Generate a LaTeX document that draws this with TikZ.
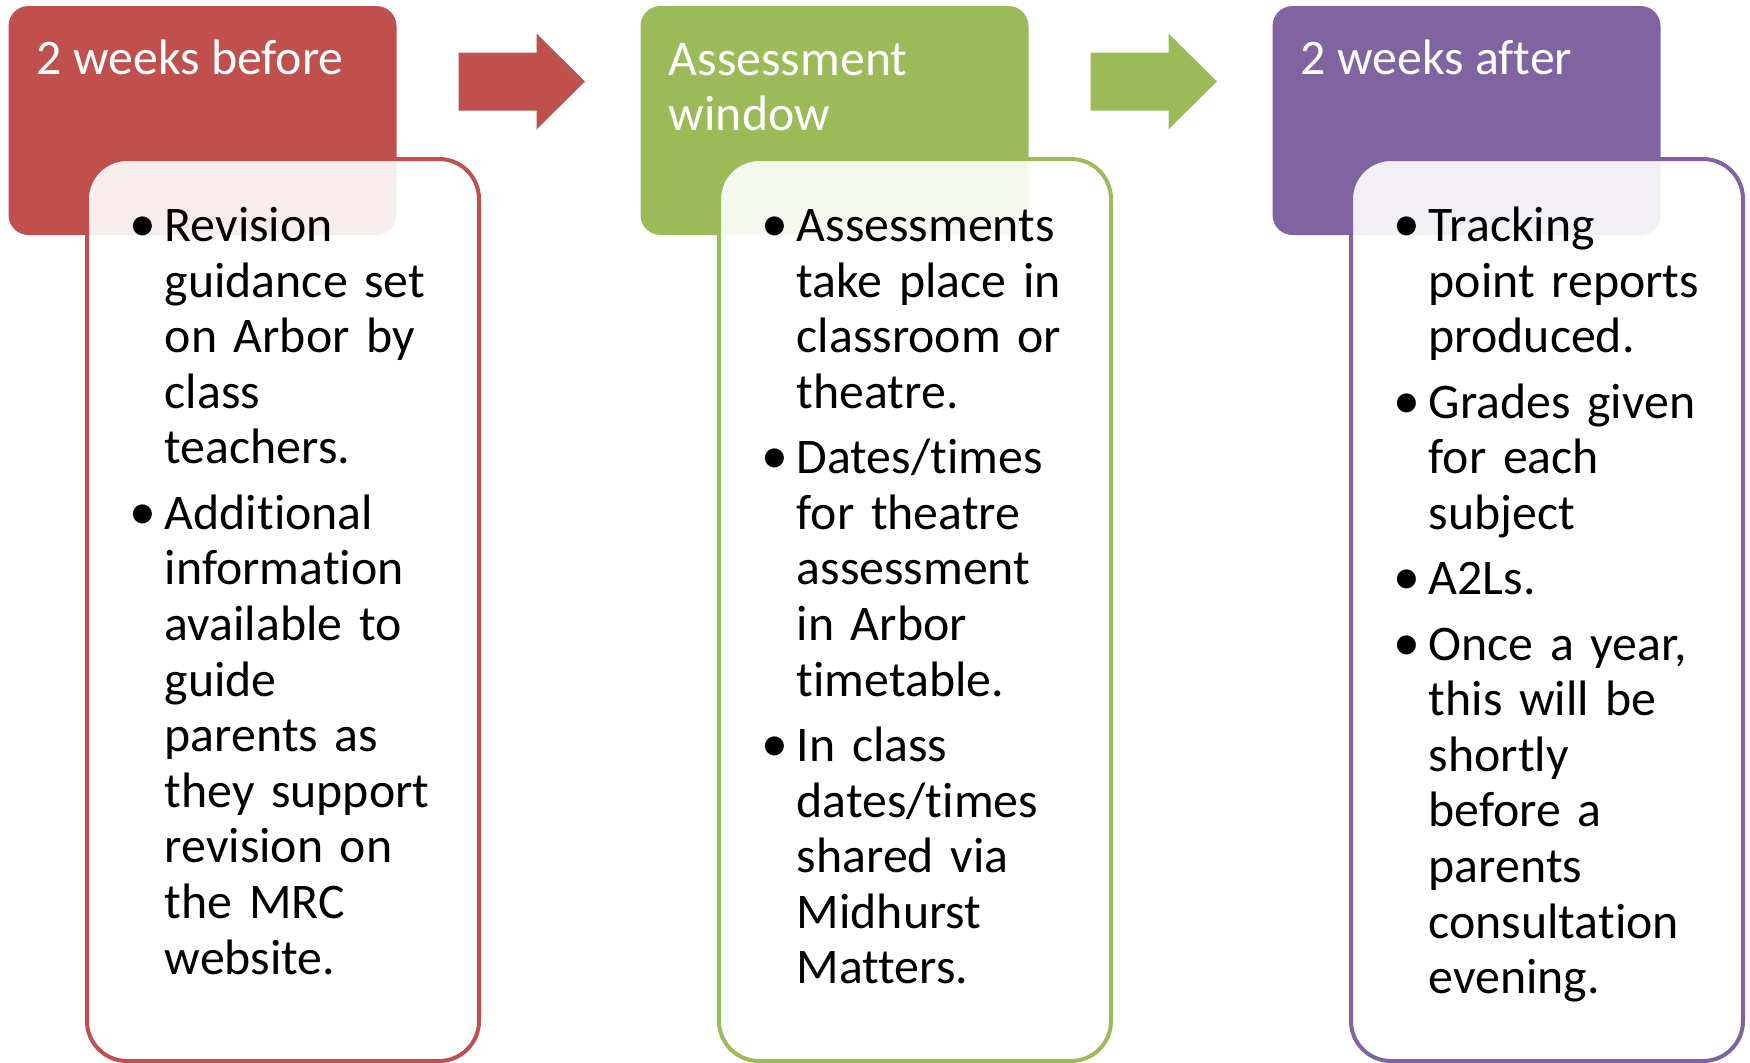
\documentclass[tikz,border=0pt]{standalone}
\usepackage{fontspec}
\setmainfont{Carlito}[Ligatures=NoCommon]
\usetikzlibrary{positioning}
\definecolor{accred}{HTML}{C0504D}
\definecolor{accgreen}{HTML}{9BBB59}
\definecolor{accpurple}{HTML}{8064A2}
\newlength{\bulletw}
\setlength{\bulletw}{17.2pt}
\newcommand{\bitem}[1]{\par\hangindent=\bulletw\hangafter=1\noindent\makebox[\bulletw][l]{\hspace{-0.5pt}\scalebox{1.08}{\textbullet}}#1\par}

\begin{document}
\begin{tikzpicture}[x=0.5pt, y=-0.5pt,
  header/.style={rounded corners=10pt, minimum width=194pt, minimum height=114.5pt, inner sep=0pt, outer sep=0pt, anchor=north west},
  panel/.style={draw, fill=white, fill opacity=0.9, line width=2pt, rounded corners=20pt, minimum width=196pt, minimum height=451pt, inner sep=0pt, outer sep=0pt, anchor=north west},
  headtext/.style={anchor=base west, inner sep=0pt, text=white, align=left, font=\fontsize{24.9pt}{27.5pt}\selectfont},
  bodytext/.style={anchor=base west, inner sep=0pt, text width=175pt, font=\fontsize{24.9pt}{27.8pt}\selectfont, execute at begin node={\setlength{\parskip}{4.9pt}}}]
\useasboundingbox (0,0) rectangle (1750,1062);
\node (hdrbefore) [header, fill=accred] at (8.5,6) {};
\node (hdrwindow) [header, fill=accgreen] at (640.5,6) {};
\node (hdrafter) [header, fill=accpurple] at (1272.5,6) {};
\node (panelbefore) [panel, draw=accred] at (87,159) {};
\node (panelwindow) [panel, draw=accgreen] at (719,159) {};
\node (panelafter) [panel, draw=accpurple] at (1351,159) {};
% arrows
\fill[accred] (458.5,52.5) -- (536.5,52.5) -- (536.5,33.5) -- (585,81.5)
  -- (536.5,129.5) -- (536.5,110.5) -- (458.5,110.5) -- cycle;
\fill[accgreen] (1090.5,52.5) -- (1168.5,52.5) -- (1168.5,33.5) -- (1217,81.5)
  -- (1168.5,129.5) -- (1168.5,110.5) -- (1090.5,110.5) -- cycle;
\node (tbefore) [headtext] at (36.5,74) {2 weeks before};
\node (twindow) [headtext] at (668.5,130) {Assessment\\window};
\node (tafter) [headtext] at (1300.5,74) {2 weeks after};
\node (lbefore) [bodytext] at (130,176) {%
\bitem{Revision\newline guidance set\newline on Arbor by\newline class\newline teachers.}
\bitem{Additional\newline information\newline available to\newline guide\newline parents as\newline they support\newline revision on\newline the MRC\newline website.}};
\node (lwindow) [bodytext] at (762,176) {%
\bitem{Assessments\newline take place in\newline classroom or\newline theatre.}
\bitem{Dates/times\newline for theatre\newline assessment\newline in Arbor\newline timetable.}
\bitem{In class\newline dates/times\newline shared via\newline Midhurst\newline Matters.}};
\node (lafter) [bodytext] at (1394,176) {%
\bitem{Tracking\newline point reports\newline produced.}
\bitem{Grades given\newline for each\newline subject}
\bitem{A2Ls.}
\bitem{Once a year,\newline this will be\newline shortly\newline before a\newline parents\newline consultation\newline evening.}};
\end{tikzpicture}
\end{document}
